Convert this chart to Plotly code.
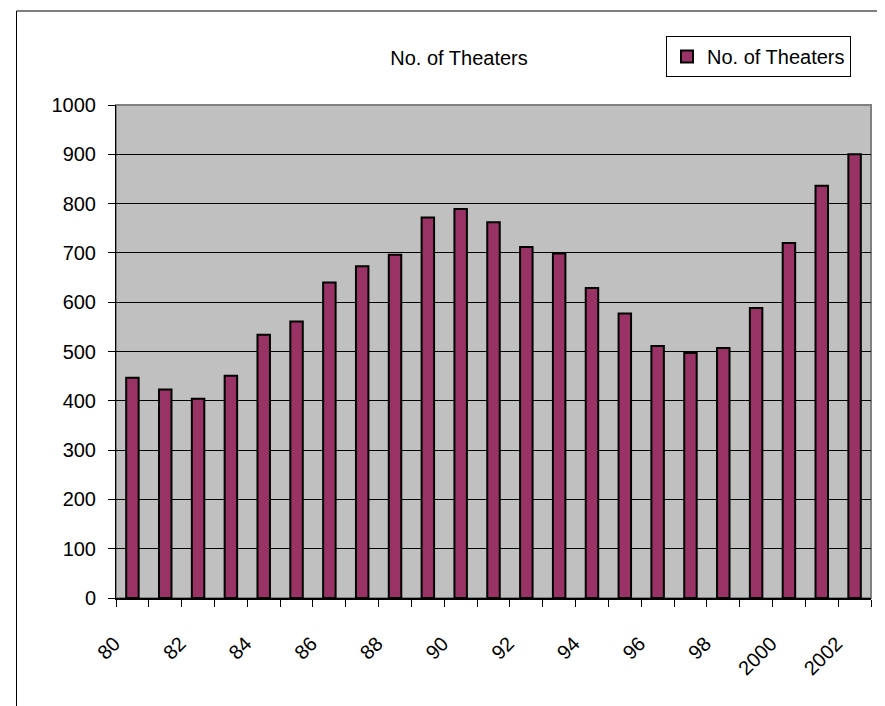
import plotly.graph_objects as go

categories = ["80", "81", "82", "83", "84", "85", "86", "87", "88", "89", "90", "91",
              "92", "93", "94", "95", "96", "97", "98", "99", "2000", "2001", "2002"]
theaters = [447, 423, 404, 451, 534, 561, 640, 673, 696, 772, 789, 762,
            712, 699, 629, 577, 511, 497, 507, 588, 720, 836, 900]
series_name = "No. of Theaters"
chart_title = "No. of Theaters"
y_ticks = [0, 100, 200, 300, 400, 500, 600, 700, 800, 900, 1000]

W, H = 885, 706
L, R, T, B = 108, 22, 97, 116
pw, ph = W - L - R, H - T - B

def px_x(p):
    return (p - L) / pw

def px_y(p):
    return (H - B - p) / ph

idx = list(range(len(categories)))
label_idx = idx[::2]

fig = go.Figure()
fig.add_trace(go.Bar(
    x=idx, y=theaters, name=series_name,
    marker=dict(color="#993366", line=dict(color="black", width=2)),
    showlegend=True,
))

FONT = "Liberation Sans, Arial, sans-serif"

fig.update_layout(
    width=W, height=H,
    margin=dict(l=L, r=R, t=T, b=B, pad=0),
    paper_bgcolor="white",
    plot_bgcolor="#C0C0C0",
    bargap=0.62,
    font=dict(family=FONT, size=20, color="black"),
    title=dict(text=chart_title, x=px_x(451), xref="paper", xanchor="center",
               y=1 - 50 / H, yref="container", yanchor="middle",
               font=dict(family=FONT, size=20, color="black")),
    legend=dict(x=px_x(658), y=px_y(28), xanchor="left", yanchor="top",
                bordercolor="black", borderwidth=1, bgcolor="white",
                font=dict(family=FONT, size=20, color="black"),
                itemwidth=30),
    showlegend=True,
)

fig.update_yaxes(
    range=[0, 1000], tickvals=y_ticks,
    showgrid=True, gridcolor="black", gridwidth=1,
    showline=True, linecolor="black", linewidth=1,
    ticks="outside", ticklen=7, tickcolor="black", tickwidth=1,
    ticklabelstandoff=8,
    zeroline=False,
    tickfont=dict(family=FONT, size=20, color="black"),
)

fig.update_xaxes(
    range=[-0.5, len(categories) - 0.5],
    tickmode="array", tickvals=label_idx, ticktext=[categories[i] for i in label_idx],
    ticks="", tickangle=-45,
    showgrid=False, zeroline=False,
    showline=True, linecolor="black", linewidth=2,
    ticklabelstandoff=24,
    ticklabelshift=-18,
    tickfont=dict(family=FONT, size=20, color="black"),
    minor=dict(tickmode="linear", tick0=-0.5, dtick=1, ticks="outside",
               ticklen=7, tickcolor="black", tickwidth=1, showgrid=False),
)

# plot area border (gray)
fig.add_shape(type="rect", xref="paper", yref="paper", x0=0, x1=1, y0=0, y1=1,
              line=dict(color="#808080", width=2), layer="between")
# chart outer border (top and left visible)
fig.add_shape(type="line", xref="paper", yref="paper",
              x0=px_x(8.5), x1=px_x(W + 5), y0=px_y(3), y1=px_y(3),
              line=dict(color="black", width=1))
fig.add_shape(type="line", xref="paper", yref="paper",
              x0=px_x(8.5), x1=px_x(8.5), y0=px_y(3), y1=px_y(H + 5),
              line=dict(color="black", width=1))

fig.write_html("out.html")
